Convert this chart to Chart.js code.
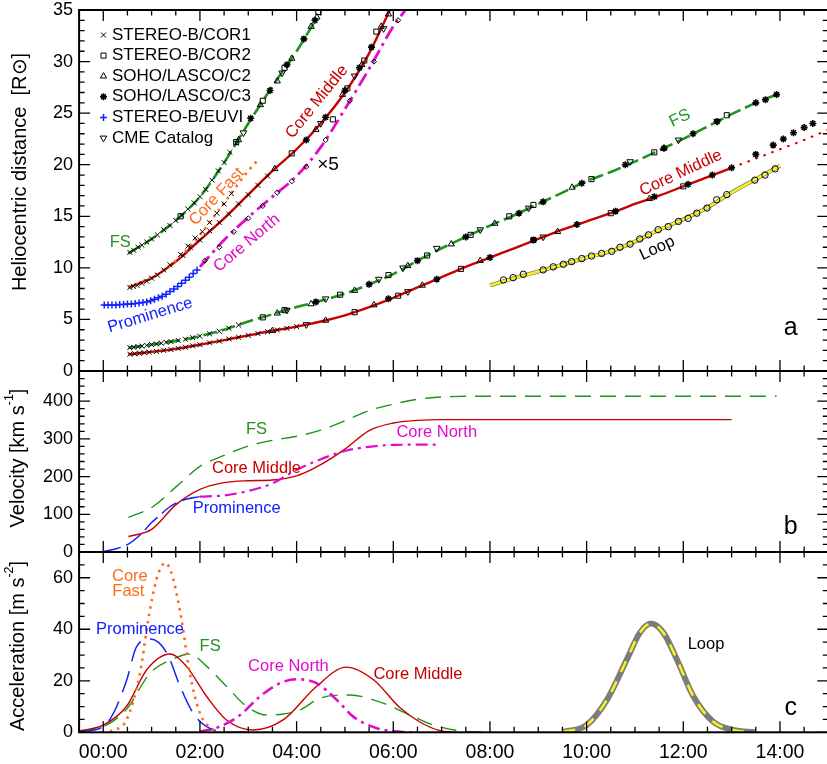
<!DOCTYPE html>
<html>
<head>
<meta charset="utf-8">
<script src="https://cdn.jsdelivr.net/npm/chart.js@4.4.0/dist/chart.umd.min.js"></script>
<style>
  html, body { margin: 0; padding: 0; background: #fff; overflow: hidden; }
  #wrap { position: relative; width: 827px; height: 764px; overflow: hidden; }
  canvas { position: absolute; left: 0; }
</style>
</head>
<body>
<div id="wrap">
  <canvas id="panelA" width="840" height="431" style="top:-30px"></canvas>
  <canvas id="panelB" width="840" height="241" style="top:341px"></canvas>
  <canvas id="panelC" width="840" height="242" style="top:522px"></canvas>
</div>
<script>
// ---- data (time in hours after 00:00) ----
var xTicks = [0, 2, 4, 6, 8, 10, 12, 14];
var distTicks = [0, 5, 10, 15, 20, 25, 30, 35];
var velTicks = [0, 100, 200, 300, 400];
var accTicks = [0, 20, 40, 60];

// panel a : fitted distance curves
var fsLowT = [0.52, 1.0, 1.5, 2.0, 2.5, 3.0, 3.5, 4.0, 4.5, 5.0, 5.5, 6.0, 6.5, 7.0, 7.5, 8.0, 8.5, 9.0, 9.5, 10.0, 10.5, 11.0, 11.5, 12.0, 12.5, 13.0, 13.5, 13.93];
var fsLowR = [2.26, 2.56, 2.92, 3.38, 4.0, 4.8, 5.5, 6.2, 6.8, 7.5, 8.4, 9.4, 10.7, 11.9, 13.0, 14.1, 15.1, 16.2, 17.3, 18.4, 19.3, 20.3, 21.4, 22.5, 23.7, 24.9, 26.0, 26.8];
var fsUpT = [0.52, 1.0, 1.5, 2.0, 2.5, 3.0, 3.5, 4.0, 4.35];
var fsUpR = [11.4, 12.8, 14.6, 16.9, 20.2, 24.0, 27.6, 31.0, 33.7];
var cmLowT = [0.52, 1.0, 1.5, 2.0, 2.5, 3.0, 3.5, 4.0, 4.5, 5.0, 5.5, 6.0, 6.5, 7.0, 7.5, 8.0, 8.5, 9.0, 9.5, 10.0, 10.5, 11.0, 11.5, 12.0, 12.5, 13.0];
var cmLowR = [1.62, 1.85, 2.15, 2.55, 3.0, 3.45, 3.9, 4.3, 4.8, 5.4, 6.2, 7.1, 8.1, 9.1, 10.1, 11.0, 11.9, 12.8, 13.7, 14.5, 15.3, 16.2, 17.0, 17.9, 18.8, 19.7];
var cmExtT = [13.0, 13.5, 14.0, 14.5, 15.0];
var cmExtR = [19.7, 20.6, 21.5, 22.4, 23.4];
var cmUpT = [0.52, 1.0, 1.5, 2.0, 2.5, 3.0, 3.5, 4.0, 4.5, 5.0, 5.5, 5.93];
var cmUpR = [8.1, 9.0, 10.6, 12.7, 14.8, 17.1, 19.4, 21.5, 24.0, 27.0, 30.8, 35.0];
var cfT = [0.52, 1.0, 1.5, 2.0, 2.5, 3.0, 3.17];
var cfR = [8.1, 9.1, 10.7, 13.2, 16.3, 19.4, 20.3];
var cnT = [2.0, 2.5, 3.0, 3.5, 4.0, 4.5, 5.0, 5.5, 6.0, 6.25];
var cnR = [10.1, 12.7, 14.9, 16.9, 18.9, 21.7, 25.4, 29.3, 33.4, 35.0];
var loopT = [8.0, 8.5, 9.0, 9.5, 10.0, 10.5, 11.0, 11.5, 12.0, 12.5, 13.0, 13.5, 14.0];
var loopR = [8.3, 9.0, 9.65, 10.3, 11.0, 11.6, 12.55, 13.7, 14.7, 15.85, 17.3, 18.6, 19.9];

// panel a : measurements [time, distance]
var cor1Pts = [[0.55,11.5],[0.63,11.7],[0.72,12.0],[0.8,12.2],[0.9,12.5],[1.0,12.8],[1.12,13.2],[1.25,13.7],[1.38,14.1],[1.5,14.6],[1.62,15.1],[1.75,15.7],[1.88,16.3],[2.0,16.9],[2.12,17.6],[2.25,18.5],[2.38,19.4],[2.5,20.2],[2.62,21.2],[2.75,22.1],
  [0.55,8.1],[0.62,8.2],[0.7,8.3],[0.8,8.5],[0.9,8.7],[1.0,9.0],[1.12,9.3],[1.25,9.8],[1.38,10.3],[1.65,11.2],[1.8,12.0],[2.0,12.7],[2.2,13.6],[2.4,14.4],[2.6,15.2],[2.8,16.2],[3.0,17.1],[3.2,18.0],[3.4,18.9],
  [1.6,11.3],[1.75,12.1],[1.9,12.9],[2.05,13.5],[2.2,14.4],[2.35,15.3],[2.5,16.2],[2.65,17.2],
  [0.55,2.27],[0.63,2.3],[0.72,2.36],[0.8,2.42],[0.9,2.48],[1.0,2.56],[1.1,2.63],[1.2,2.7],[1.3,2.78],[1.4,2.85],[1.55,2.96],[1.7,3.08],[1.85,3.22],[2.0,3.38],[2.2,3.6],[2.4,3.85],[2.6,4.15],[2.8,4.45],
  [0.55,1.63],[0.65,1.67],[0.75,1.72],[0.85,1.77],[0.95,1.82],[1.1,1.9],[1.25,2.0],[1.4,2.08],[1.55,2.19],[1.7,2.3],[1.85,2.43],[2.0,2.55],[2.2,2.73],[2.4,2.9],[2.6,3.1],[2.8,3.27],[3.0,3.45],[3.2,3.63],[3.4,3.8],[3.6,3.98],[3.8,4.14],[4.0,4.3]];
var cor2Pts = [[1.6,15.0],[2.75,22.2],[3.3,26.2],[3.75,29.4],[4.45,34.8],
  [3.9,21.1],[4.75,24.4],[5.05,27.4],[5.4,30.1],[5.65,32.9],
  [3.3,5.2],[3.75,5.9],[4.9,7.4],[5.9,9.3],[6.7,11.2],[7.6,13.2],[8.4,15.0],[8.9,16.1],[10.1,18.6],[11.4,21.2],[12.9,24.8],
  [5.2,5.7],[6.1,7.3],[7.4,9.9],[8.9,12.7],[10.5,15.3],[12.0,17.9]];
var c2Pts = [[2.8,22.4],[3.25,25.8],[3.6,28.1],[3.9,30.3],[4.3,33.4],[4.42,34.3],
  [3.55,19.6],[4.4,23.4],[4.95,26.8],[5.35,29.7],[5.75,33.4],[5.9,34.6],
  [3.6,5.6],[4.3,6.5],[5.2,7.8],[6.3,10.2],[7.2,12.3],[8.1,14.3],[9.7,17.8],[11.6,21.6],
  [3.5,3.9],[4.6,4.9],[5.6,6.4],[6.6,8.3],[7.8,10.7],[9.4,13.5],[11.3,16.7]];
var c3Pts = [[3.05,24.5],[3.45,27.2],[3.8,29.7],[4.15,32.2],[4.38,34.0],
  [4.2,22.4],[4.6,24.6],[5.0,27.2],[5.3,29.4],[5.55,31.4],
  [4.4,6.7],[5.5,8.4],[6.5,10.7],[7.5,13.0],[8.6,15.3],[9.1,16.4],[9.9,18.2],[10.8,20.0],[11.6,21.6],[12.2,23.0],[12.7,24.2],[13.5,26.0],[13.7,26.3],[13.93,26.8],
  [5.9,7.0],[6.9,8.9],[8.0,11.0],[8.9,12.7],[9.8,14.2],[10.6,15.5],[11.4,16.9],[12.1,18.1],[12.6,19.0],[13.0,19.7],[13.5,21.0],[13.86,21.9],[14.07,22.5],[14.28,23.1],[14.5,23.6],[14.68,24.0]];
var euviPts = [[0.02,6.4],[0.1,6.4],[0.18,6.4],[0.26,6.4],[0.34,6.45],[0.42,6.45],[0.5,6.5],[0.58,6.5],[0.66,6.55],[0.74,6.6],[0.82,6.65],[0.9,6.7],[0.98,6.8],[1.06,6.95],[1.14,7.1],[1.22,7.25],[1.3,7.45],[1.38,7.7],[1.46,7.95],[1.54,8.2],[1.62,8.5],[1.7,8.8],[1.78,9.1],[1.86,9.45],[1.94,9.8]];
var catPts = [[2.9,23.1],[3.7,28.9],[4.5,24.0],[5.2,28.6],[5.8,33.2],
  [3.8,5.9],[4.6,7.0],[5.7,8.9],[6.2,10.0],[6.9,11.9],[7.8,13.7],[8.8,15.8],[10.9,20.3],[11.9,22.4],[12.7,24.2],
  [4.2,4.5],[6.3,7.7],[9.1,13.0]];
var northPts = [[2.1,10.7],[2.4,12.0],[2.7,13.5],[3.0,14.8],[3.3,16.0],[3.6,17.3],[3.9,18.4],[4.2,19.8],[4.6,22.4],[5.1,26.2],[5.6,30.0],[6.1,34.0]];
var loopPts = [[8.28,8.83],[8.48,9.05],[8.69,9.38],[9.1,9.8],[9.31,10.1],[9.52,10.35],[9.69,10.6],[9.9,10.9],[10.1,11.15],[10.31,11.4],[10.52,11.6],[10.69,12.0],[10.9,12.3],[11.1,12.8],[11.28,13.2],[11.48,13.7],[11.69,14.0],[11.9,14.5],[12.1,14.8],[12.28,15.3],[12.49,15.8],[12.69,16.6],[12.9,17.1],[13.48,18.5],[13.69,19.0],[13.9,19.6]];

// panel b : velocity [km/s]
var vFsT = [0.52, 1.0, 1.5, 2.0, 2.5, 3.0, 3.5, 4.0, 4.5, 5.0, 5.5, 6.0, 6.5, 7.0, 7.5, 13.93];
var vFs = [92, 118, 172, 227, 256, 281, 296, 307, 323, 348, 375, 392, 405, 411, 413, 413];
var vCmT = [0.52, 1.0, 1.5, 2.0, 2.5, 3.0, 3.5, 4.0, 4.5, 5.0, 5.5, 6.0, 6.5, 7.0, 13.0];
var vCm = [41, 60, 125, 166, 184, 189, 191, 202, 232, 273, 322, 342, 349, 351, 351];
var vCnT = [2.0, 2.5, 3.0, 3.5, 4.0, 4.5, 5.0, 5.5, 6.0, 6.97];
var vCn = [147, 150, 162, 182, 218, 246, 268, 279, 284, 285];
var vPrT = [0.0, 0.25, 0.52, 0.76, 1.0, 1.14, 1.38, 1.66, 2.0];
var vPr = [1, 8, 21, 45, 78, 94, 120, 138, 147];

// panel c : acceleration [m/s^2]
var aCfT = [0.14, 0.48, 0.76, 0.93, 1.1, 1.2, 1.28, 1.36, 1.45, 1.62, 1.79, 2.0, 2.28, 2.4];
var aCf = [0.2, 4.8, 23, 43.7, 59.3, 64.2, 65.8, 64.2, 59.3, 43.7, 23, 7.4, 0.9, 0];
var aPrT = [-0.48, 0, 0.21, 0.48, 0.69, 0.97, 1.31, 1.59, 1.86, 2.14, 2.5, 2.97];
var aPr = [0.2, 2.2, 7.4, 20, 33.3, 36.2, 31, 17.8, 7.4, 2.2, 0.2, 0];
var aCmT = [-0.48, 0, 0.48, 0.9, 1.38, 1.72, 2.14, 2.55, 3.1, 3.72, 4.41, 5.03, 5.59, 6.14, 6.55, 6.97, 7.31];
var aCm = [0.6, 2.8, 10, 24.3, 30.4, 25.6, 13.9, 4.8, 0.9, 4.8, 17.8, 25.3, 20.4, 9.5, 4.0, 0.6, 0];
var aFsT = [-0.48, 0, 0.48, 0.97, 1.45, 1.79, 2.14, 2.55, 2.97, 3.38, 3.7, 4.07, 4.48, 5.1, 5.79, 6.41, 6.83, 7.38, 7.93];
var aFs = [0.5, 2.2, 8.9, 23, 28.5, 30.4, 25.6, 17.8, 10, 6.7, 7.0, 8.7, 13.2, 14.5, 11.3, 6.1, 2.8, 0.6, 0];
var aCnT = [2.0, 2.41, 2.83, 3.24, 3.66, 4.0, 4.41, 4.83, 5.17, 5.66, 6.14, 6.5];
var aCn = [0.2, 2.2, 6.7, 13.9, 19.1, 20.6, 19.1, 12.6, 6.1, 1.6, 0.2, 0];
var aLoopT = [9.52, 10.0, 10.42, 10.83, 11.1, 11.33, 11.59, 11.87, 12.21, 12.62, 13.03, 13.48];
var aLoop = [0.2, 2.8, 12.6, 28.2, 38.6, 42.2, 38.6, 28.2, 13.9, 4.1, 0.9, 0];

// ---- styles ----
var FONT = "'Liberation Sans', Arial, Helvetica, sans-serif";
var GREEN = '#1f931f', RED = '#c80000', ORANGE = '#ff6a1c', MAGENTA = '#e20cc8',
    BLUE = '#1020ff', YELLOW = '#f6f21e', GRAY = '#7c7c7c';
var X0 = -0.5, X1 = 15;
var LEFT = 79.1, RIGHT_PAD = 840 - 828.3;

function pts(ts, vs) { return ts.map(function (t, i) { return {x: t, y: vs[i]}; }); }
function pairs(a) { return a.map(function (p) { return {x: p[0], y: p[1]}; }); }

function curve(data, color, width, dash) {
  return {data: data, showLine: true, borderColor: color, backgroundColor: color, borderWidth: width,
    borderDash: dash || [], pointRadius: 0, fill: false, cubicInterpolationMode: 'monotone'};
}
function marks(data, style, color, radius, extra) {
  var d = {data: data, showLine: false, pointStyle: style, pointRadius: radius, borderColor: color,
    backgroundColor: 'rgba(0,0,0,0)', borderWidth: 1, pointHoverRadius: radius};
  for (var k in extra) d[k] = extra[k];
  return d;
}

function drawText(ctx, txt, x, y, color, size, rot) {
  ctx.save();
  ctx.translate(x, y);
  ctx.rotate((rot || 0) * Math.PI / 180);
  ctx.fillStyle = color;
  ctx.font = size + 'px ' + FONT;
  ctx.textAlign = 'center';
  ctx.textBaseline = 'middle';
  ctx.fillText(txt, 0, 0);
  ctx.restore();
}

function drawTitle(ctx, parts, cx, cy, size) {
  ctx.save();
  ctx.translate(cx, cy);
  ctx.rotate(-Math.PI / 2);
  ctx.fillStyle = '#000';
  ctx.textBaseline = 'middle';
  ctx.textAlign = 'left';
  var w = 0;
  parts.forEach(function (p) {
    ctx.font = (p.sup ? size * 0.62 : size) + 'px ' + FONT;
    w += ctx.measureText(p.t).width;
  });
  var x = -w / 2;
  parts.forEach(function (p) {
    ctx.font = (p.sup ? size * 0.62 : size) + 'px ' + FONT;
    ctx.fillText(p.t, x, p.sup ? -size * 0.4 : 0);
    x += ctx.measureText(p.t).width;
  });
  ctx.restore();
}

// frame, inward ticks, labels (IDL look); o.top = page y of the canvas
var framePlugin = {
  id: 'frame',
  afterDatasetsDraw: function (chart, args, o) {
    var ctx = chart.ctx, a = chart.chartArea, xs = chart.scales.x, ys = chart.scales.y;
    var off = o.top;
    ctx.save();
    ctx.strokeStyle = '#000';
    ctx.lineWidth = 1.3;
    ctx.beginPath();
    for (var i = 0; i <= 31; i++) {
      var px = xs.getPixelForValue(X0 + i * 0.5);
      var len = (i % 4 === 1) ? 11 : 5.5;
      ctx.moveTo(px, a.bottom); ctx.lineTo(px, a.bottom - len);
      ctx.moveTo(px, a.top); ctx.lineTo(px, a.top + len);
    }
    var n = Math.round((o.yMax - o.yMin) / o.yMinor);
    var per = Math.round(o.yMajor / o.yMinor);
    for (var j = 0; j <= n; j++) {
      var py = ys.getPixelForValue(o.yMin + j * o.yMinor);
      var l2 = (j % per === 0) ? 11 : 5.5;
      ctx.moveTo(a.left, py); ctx.lineTo(a.left + l2, py);
      ctx.moveTo(a.right, py); ctx.lineTo(a.right - l2, py);
    }
    ctx.stroke();
    ctx.lineWidth = 2;
    ctx.strokeRect(a.left, a.top, a.right - a.left, a.bottom - a.top);

    (o.labels || []).forEach(function (L) {
      drawText(ctx, L.text, xs.getPixelForValue(L.t), ys.getPixelForValue(L.v), L.color, L.size || 16.5, L.rot);
    });
    drawText(ctx, o.letter, 790.7, o.letterY - off, '#000', 25, 0);
    drawTitle(ctx, o.title, o.titleX, o.titleY - off, 20);

    if (o.legend) {
      o.legend.forEach(function (e, k) {
        var y = 35 + k * 20.6 - off;
        ctx.strokeStyle = e.color;
        ctx.fillStyle = 'rgba(0,0,0,0)';
        ctx.lineWidth = e.bw || 1;
        Chart.helpers.drawPoint(ctx, {pointStyle: e.style, radius: e.r, borderWidth: e.bw || 1, rotation: e.rot || 0}, 103.5, y);
        ctx.fillStyle = '#000';
        ctx.font = '17px ' + FONT;
        ctx.textAlign = 'left';
        ctx.textBaseline = 'middle';
        ctx.fillText(e.text, 112, y);
      });
    }
    ctx.restore();
  }
};

function panel(id, datasets, yMin, yMax, yTickVals, pad, showX, frameOpts) {
  return new Chart(document.getElementById(id), {
    type: 'scatter',
    data: {datasets: datasets},
    plugins: [framePlugin],
    options: {
      responsive: false,
      animation: false,
      devicePixelRatio: 1,
      layout: {padding: pad},
      plugins: {legend: {display: false}, tooltip: {enabled: false}, frame: frameOpts},
      scales: {
        x: {
          type: 'linear', min: X0, max: X1, display: showX,
          grid: {display: false, drawTicks: false}, border: {display: false},
          afterBuildTicks: function (s) { s.ticks = xTicks.map(function (v) { return {value: v}; }); },
          ticks: {
            color: '#000', padding: 9, maxRotation: 0, autoSkip: false,
            font: {family: FONT, size: 19.5},
            callback: function (v) { return (v < 10 ? '0' : '') + v + ':00'; }
          },
          afterFit: function (s) { if (showX) s.height = 31.7; }
        },
        y: {
          type: 'linear', min: yMin, max: yMax,
          grid: {display: false, drawTicks: false}, border: {display: false},
          afterBuildTicks: function (s) { s.ticks = yTickVals.map(function (v) { return {value: v}; }); },
          ticks: {color: '#000', padding: 6, font: {family: FONT, size: 18}},
          afterFit: function (s) { s.width = LEFT; }
        }
      }
    }
  });
}

// ---- panel a (canvas top -30, plot 10..371) ----
panel('panelA', [
  marks(pairs(cor1Pts), 'crossRot', '#000', 3.5),
  marks(pairs(cor2Pts), 'rect', '#000', 3.6),
  marks(pairs(c2Pts), 'triangle', '#000', 3.6),
  marks(pairs(c3Pts), 'star', '#000', 3.5, {borderWidth: 1.6}),
  marks(pairs(euviPts), 'cross', BLUE, 3.5, {borderWidth: 1.5}),
  marks(pairs(catPts), 'triangle', '#000', 3.8, {rotation: 180}),
  marks(pairs(northPts), 'rectRot', '#000', 2.6),
  marks(pairs(loopPts), 'circle', '#000', 3.2),
  curve(pts(fsUpT, fsUpR), GREEN, 2.6, [14, 5]),
  curve(pts(fsLowT, fsLowR), GREEN, 2.6, [14, 5]),
  curve(pts(cfT, cfR), ORANGE, 2.6, [2.5, 5]),
  curve(pts(cnT, cnR), MAGENTA, 2.8, [14, 5, 3, 5]),
  curve(pts(cmUpT, cmUpR), RED, 2.4),
  curve(pts(cmLowT, cmLowR), RED, 2.4),
  curve(pts(cmExtT, cmExtR), RED, 2, [2.5, 6]),
  curve(pts(loopT, loopR), YELLOW, 2.6),
  curve(pts(loopT, loopR), GRAY, 4)
], 0, 35, distTicks, {top: 40, bottom: 30, left: 0, right: RIGHT_PAD}, false, {
  top: -30, yMin: 0, yMax: 35, yMinor: 1, yMajor: 5, letter: 'a', letterY: 328.3,
  title: [{t: 'Heliocentric distance  [R\u2299]'}], titleX: 20, titleY: 172,
  legend: [
    {text: 'STEREO-B/COR1', style: 'crossRot', r: 3.5, color: '#000'},
    {text: 'STEREO-B/COR2', style: 'rect', r: 3.6, color: '#000'},
    {text: 'SOHO/LASCO/C2', style: 'triangle', r: 3.6, color: '#000'},
    {text: 'SOHO/LASCO/C3', style: 'star', r: 3.5, color: '#000', bw: 1.6},
    {text: 'STEREO-B/EUVI', style: 'cross', r: 3.5, color: BLUE, bw: 1.5},
    {text: 'CME Catalog', style: 'triangle', r: 3.8, color: '#000', rot: 180}
  ],
  labels: [
    {text: 'FS', t: 0.35, v: 12.5, color: GREEN},
    {text: 'Prominence', t: 0.97, v: 5.4, color: BLUE, rot: -17},
    {text: 'Core Fast', t: 2.35, v: 16.9, color: ORANGE, rot: -47},
    {text: 'Core Middle', t: 4.42, v: 26.1, color: RED, rot: -51},
    {text: 'Core North', t: 2.97, v: 12.4, color: MAGENTA, rot: -40},
    {text: '\u00d75', t: 4.65, v: 20.0, color: '#000', size: 19},
    {text: 'FS', t: 11.93, v: 24.5, color: GREEN, rot: -25},
    {text: 'Core Middle', t: 11.95, v: 19.2, color: RED, rot: -25},
    {text: 'Loop', t: 11.46, v: 11.9, color: '#000', rot: -25}
  ]
});

// ---- panel b (canvas top 341, plot 371..552) ----
panel('panelB', [
  curve(pts(vPrT, vPr), BLUE, 1.5, [18, 6]),
  curve(pts(vCnT, vCn), MAGENTA, 2.2, [12, 5, 3, 5]),
  curve(pts(vCmT, vCm), RED, 1.4),
  curve(pts(vFsT, vFs), GREEN, 1.4, [16, 9])
], 0, 480, velTicks, {top: 30, bottom: 30, left: 0, right: RIGHT_PAD}, false, {
  top: 341, yMin: 0, yMax: 480, yMinor: 20, yMajor: 100, letter: 'b', letterY: 526.7,
  title: [{t: 'Velocity [km s'}, {t: '-1', sup: true}, {t: ']'}], titleX: 18, titleY: 458,
  labels: [
    {text: 'FS', t: 3.17, v: 324, color: GREEN},
    {text: 'Core Middle', t: 3.17, v: 222, color: RED},
    {text: 'Prominence', t: 2.76, v: 116, color: BLUE},
    {text: 'Core North', t: 6.9, v: 316, color: MAGENTA}
  ]
});

// ---- panel c (canvas top 522, plot 552..732.3) ----
panel('panelC', [
  curve(pts(aCfT, aCf), ORANGE, 2.6, [2.5, 5]),
  curve(pts(aPrT, aPr), BLUE, 1.5, [22, 10]),
  curve(pts(aCnT, aCn), MAGENTA, 2.6, [12, 5, 3, 5]),
  curve(pts(aCmT, aCm), RED, 1.4),
  curve(pts(aFsT, aFs), GREEN, 1.4, [16, 9]),
  curve(pts(aLoopT, aLoop), YELLOW, 2.6, [12, 10]),
  curve(pts(aLoopT, aLoop), GRAY, 6)
], 0, 70, accTicks, {top: 30, bottom: 0, left: 0, right: RIGHT_PAD}, true, {
  top: 522, yMin: 0, yMax: 70, yMinor: 5, yMajor: 20, letter: 'c', letterY: 708.3,
  title: [{t: 'Acceleration [m s'}, {t: '-2', sup: true}, {t: ']'}], titleX: 18, titleY: 646,
  labels: [
    {text: 'Core', t: 0.55, v: 60.6, color: ORANGE},
    {text: 'Fast', t: 0.52, v: 54.8, color: ORANGE},
    {text: 'Prominence', t: 0.76, v: 40.1, color: BLUE},
    {text: 'FS', t: 2.21, v: 33.3, color: GREEN},
    {text: 'Core North', t: 3.83, v: 25.6, color: MAGENTA},
    {text: 'Core Middle', t: 6.51, v: 22.3, color: RED},
    {text: 'Loop', t: 12.47, v: 34.0, color: '#000'}
  ]
});
</script>
</body>
</html>
